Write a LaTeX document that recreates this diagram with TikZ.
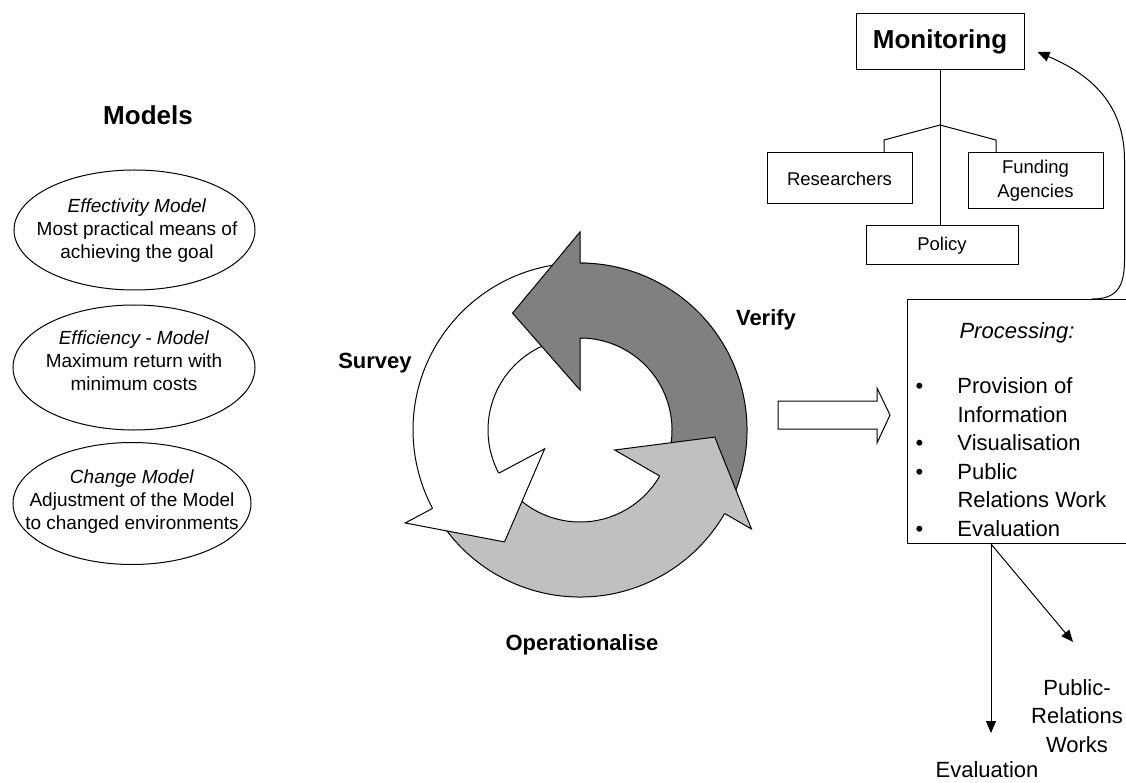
\documentclass[tikz,border=0pt]{standalone}
\usepackage{fontspec}
\setmainfont{Liberation Sans}
\usepackage{xcolor}
\usetikzlibrary{arrows.meta,calc,positioning,shapes.geometric}

\definecolor{cycdark}{HTML}{808080}
\definecolor{cyclight}{HTML}{C0C0C0}

\begin{document}
\begin{tikzpicture}[x=1pt,y=-1pt,line width=1pt,>={Triangle[length=12pt,width=10pt]},
  box/.style={draw,inner sep=0pt,align=center,font=\fontsize{18.5}{24}\selectfont},
  oval/.style={draw,ellipse,inner sep=0pt},
  modeltext/.style={align=center,inner sep=0pt,font=\fontsize{19}{23}\selectfont},
  stage/.style={font=\fontsize{22}{26}\selectfont\bfseries},
  lbl/.style={font=\fontsize{22}{28.6}\selectfont}]
\useasboundingbox (0,0) rectangle (1126,783);
\fill[white] (0,0) rectangle (1126,783);
\clip (0,0) rectangle (1126,783);

% models
\node[font=\fontsize{26}{30}\selectfont\bfseries] (models) at (148,115) {Models};
\node[oval,minimum width=241pt,minimum height=120pt] (effect) at (134.5,230) {};
\node[oval,minimum width=242pt,minimum height=125pt] (effic) at (134,367.5) {};
\node[oval,minimum width=238pt,minimum height=122pt] (change) at (132,503.5) {};
\node[modeltext] (effecttxt) at (137,231) {\textit{Effectivity Model}\\Most practical means of\\achieving the goal};
\node[modeltext] (effictxt) at (134,361) {\textit{Efficiency - Model}\\Maximum return with\\minimum costs};
\node[modeltext] (changetxt) at (132,502) {\textit{Change Model}\\Adjustment of the Model\\to changed environments};

% cycle
\begin{scope}[shift={(580,430)},y=1pt]
\foreach \b/\c in {208/white,330/cyclight,450/cycdark}{
  \fill[\c] ({\b-119}:167) arc[start angle=\b-119,end angle=\b+1,radius=167] -- ({\b+1}:92) arc[start angle=\b+1,end angle=\b-119,radius=92] -- cycle;
  \draw ({\b-120}:167) arc[start angle=\b-120,end angle=\b,radius=167];
  \draw ({\b-120}:92) arc[start angle=\b-120,end angle=\b,radius=92];
}
\foreach \b/\c/\t in {208/white/28,330/cyclight/27,450/cycdark/30}{
  \filldraw[fill=\c] (\b:92) -- (\b:40) -- ({\b+\t}:135) -- (\b:198) -- (\b:167);
}
\end{scope}
\node[stage] (verify) at (766,320) {Verify};
\node[stage] (survey) at (375,363) {Survey};
\node[stage] (oper) at (582,645) {Operationalise};

\draw (778,401) -- (877,401) -- (877,388) -- (890,415) -- (877,443) -- (877,429) -- (778,429) -- cycle;

% monitoring
\node[box,minimum width=168pt,minimum height=56pt,font=\fontsize{26}{30}\selectfont\bfseries] (mon) at (940,42) {Monitoring};
\node[box,minimum width=145pt,minimum height=51pt] (res) at (839.5,178.5) {Researchers};
\node[box,minimum width=135pt,minimum height=56pt] (fund) at (1035.5,181) {Funding\\Agencies};
\node[box,minimum width=152pt,minimum height=39pt] (pol) at (942,245.5) {Policy};
\coordinate (fork) at (940,125);
\draw (mon.south) -- (mon.south |- pol.north);
\draw (fork) -- (884,140) -- (884,140 |- res.north);
\draw (fork) -- (996,140) -- (996,140 |- fund.north);

% processing
\node[box,anchor=north west,minimum width=228pt,minimum height=244pt] (proc) at (907,299) {};
\node[lbl] (ptitle) at (1017,333) {\textit{Processing:}};
\node[lbl,anchor=north west,inner sep=0pt] (plist) at (915,373) {\begin{tabular}{@{}p{42pt}@{}l@{}}
\textbullet & Provision of\\ & Information\\ \textbullet & Visualisation\\ \textbullet & Public\\ & Relations Work\\ \textbullet & Evaluation
\end{tabular}};
\draw[->] ([xshift=-44pt]proc.north east) .. controls (1116,299) and (1124.5,288) .. (1124.5,260) -- (1124.5,160) .. controls (1124.5,100) and (1085,72) .. ([shift={(13,10)}]mon.east);

\coordinate (split) at ([xshift=84pt]proc.south west);
\coordinate (evtip) at (991,733);
\coordinate (prtip) at (1073,642);
\draw[->] (split) -- (evtip);
\draw[->] (split) -- (prtip);
\node[lbl] (evlbl) at (987,770) {Evaluation};
\node[lbl,align=center] (prlbl) at (1077,716) {Public-\\Relations\\Works};
\end{tikzpicture}
\end{document}
